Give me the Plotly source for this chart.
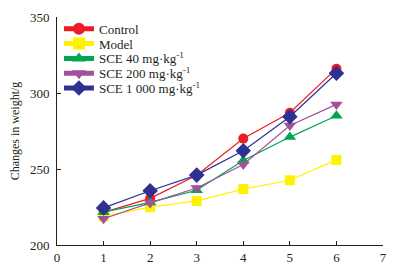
import plotly.graph_objects as go

days = [1, 2, 3, 4, 5, 6]
control = [221.5, 230.7, 245.9, 270.0, 287.0, 316.0]
model = [218.8, 224.9, 229.0, 236.8, 242.6, 256.0]
sce40 = [221.6, 228.0, 236.0, 255.6, 271.0, 285.0]
sce200 = [217.3, 227.7, 237.5, 253.0, 278.6, 292.5]
sce1000 = [224.4, 235.7, 246.0, 262.0, 284.4, 313.0]

series = [
    ("Control", control, "#ED1C24", "circle", 10),
    ("Model", model, "#FFF200", "square", 10),
    ("SCE 40 mg·kg<sup>-1</sup>", sce40, "#00A651", "triangle-up", 11),
    ("SCE 200 mg·kg<sup>-1</sup>", sce200, "#A3519A", "triangle-down", 11),
    ("SCE 1 000 mg·kg<sup>-1</sup>", sce1000, "#2E3192", "diamond", 12),
]

font = "Liberation Serif, Times New Roman, serif"
# page body has an 8px default margin; plot area target (page px): x 57..383, y 14..245
top_page, bottom_page = 14, 245
plot_h = bottom_page - top_page
legend_centers = [26, 41, 56, 71, 86]

fig = go.Figure()
layout_legends = {}
for i, (name, vals, color, sym, size) in enumerate(series):
    lname = "legend" if i == 0 else f"legend{i+1}"
    fig.add_trace(go.Scatter(
        x=days, y=vals, name=name, mode="lines+markers",
        line=dict(color=color, width=1.2),
        marker=dict(symbol=sym, size=size, color=color, line=dict(width=0)),
        legend=lname,
    ))
    layout_legends[lname] = dict(
        x=0.006, y=1 - (legend_centers[i] - top_page) / plot_h,
        xanchor="left", yanchor="middle",
        bgcolor="rgba(0,0,0,0)", borderwidth=0,
        font=dict(family=font, size=13, color="#231F20", weight="normal"),
        itemsizing="constant", itemwidth=30,
    )

fig.update_layout(
    template="none",
    width=402, height=273,
    margin=dict(l=49, r=27, t=6, b=36, pad=0),
    paper_bgcolor="white", plot_bgcolor="white",
    font=dict(family=font, size=13, color="#231F20"),
    showlegend=True,
    xaxis=dict(range=[0, 7], tickvals=[0, 1, 2, 3, 4, 5, 6, 7],
               showline=True, linecolor="#231F20", linewidth=1, mirror=False,
               ticks="inside", ticklen=4, tickcolor="#231F20", automargin=False,
               showgrid=False, zeroline=False, tickfont=dict(family=font, size=13)),
    yaxis=dict(range=[200, 350], tickvals=[200, 250, 300, 350],
               showline=True, linecolor="#231F20", linewidth=1, mirror=False,
               ticks="inside", ticklen=4, tickcolor="#231F20", automargin=False,
               ticklabelstandoff=4,
               showgrid=False, zeroline=False, tickfont=dict(family=font, size=13),
               title=dict(text="Changes in weight/g", font=dict(family=font, size=12), standoff=8)),
    **layout_legends,
)

fig.write_html("out.html")
